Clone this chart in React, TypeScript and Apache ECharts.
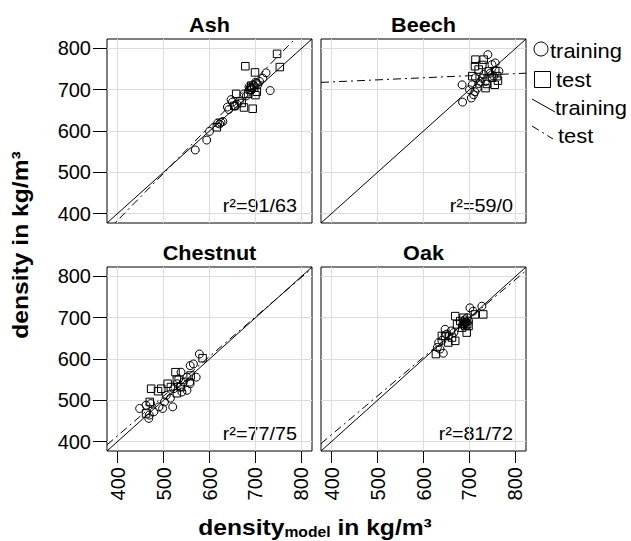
import React, { useEffect, useRef } from "react";
import * as echarts from "echarts";

// ---------- data ----------
const panelNames = ["Ash", "Beech", "Chestnut", "Oak"];
const r2Labels = ["r²=91/63", "r²=59/0", "r²=77/75", "r²=81/72"];
const tickValues = [400, 500, 600, 700, 800];
const axisRange = [377, 823];
const legendLabels = ["training", "test", "training", "test"];
const xTitleParts = ["density", "model", " in kg/m³"];
const yTitle = "density in kg/m³";

const ashTraining = [
  [569, 554], [594, 578], [600, 599], [618, 619], [622, 617], [625, 621], [629, 623],
  [639, 658], [647, 676], [642, 652], [650, 670], [665, 672], [680, 685], [686, 707],
  [702, 716], [709, 720], [716, 728], [723, 741], [732, 698], [690, 705], [695, 712],
  [700, 718], [675, 690], [660, 665], [655, 660], [692, 700], [705, 712],
];
const ashTest = [
  [747, 787], [678, 757], [699, 742], [753, 755], [691, 710], [658, 690], [694, 654],
  [675, 657], [700, 687], [654, 661], [616, 609], [697, 705], [703, 695], [688, 700],
  [670, 668], [684, 690],
];

const beechTraining = [
  [740, 785], [684, 712], [685, 670], [704, 680], [709, 688], [749, 761], [756, 765],
  [753, 733], [731, 737], [717, 704], [724, 720], [706, 712], [713, 729], [735, 720],
  [764, 745], [720, 715], [728, 728], [700, 700], [745, 740], [712, 695],
];
const beechTest = [
  [713, 773], [731, 773], [712, 757], [755, 712], [738, 714], [756, 745], [720, 749],
  [742, 745], [749, 729], [706, 733], [760, 733], [735, 704], [728, 760], [762, 722],
];

const chestnutTraining = [
  [578, 612], [558, 584], [565, 588], [571, 556], [557, 544], [551, 524], [538, 568],
  [520, 484], [502, 496], [448, 480], [468, 456], [469, 464], [462, 488], [479, 472],
  [490, 484], [506, 512], [536, 532], [543, 544], [551, 556], [522, 528], [540, 520],
  [558, 540], [533, 552], [498, 480], [472, 492], [530, 540], [515, 505],
];
const chestnutTest = [
  [585, 602], [473, 528], [488, 522], [495, 528], [526, 568], [529, 550], [559, 560],
  [509, 540], [529, 517], [470, 496], [516, 532], [538, 532], [462, 468],
];

const oakTraining = [
  [727, 728], [701, 724], [708, 716], [647, 672], [643, 614], [633, 640], [655, 656],
  [666, 664], [691, 688], [698, 692], [636, 624], [650, 660], [660, 668], [690, 695],
  [695, 700], [640, 645], [630, 628], [688, 684], [693, 690],
];
const oakTest = [
  [627, 612], [669, 704], [673, 684], [691, 680], [694, 664], [730, 708], [640, 656],
  [647, 656], [669, 644], [654, 640], [662, 652], [687, 700], [698, 680], [684, 676],
  [712, 708], [680, 692], [690, 690], [695, 685], [686, 686],
];

const trainingSlopes = [1, 1, 1, 1];
const trainingIntercepts = [0, 0, 0, 0];
const testSlopes = [1.14, 0.05, 0.96, 0.94];
const testIntercepts = [-72.6, 699, 30, 40.5];

// ---------- layout ----------
const FONT = "'Liberation Sans', Arial, Helvetica, sans-serif";
const PANEL_W = 205;
const PANEL_H = 184;
const panelPos = [
  [107, 39],
  [321, 39],
  [107, 267],
  [321, 267],
];
const DASHDOT = [8, 4, 2, 4];

export default function App() {
  const ref = useRef<HTMLDivElement>(null);

  useEffect(() => {
    if (!ref.current) return;
    const chart = echarts.init(ref.current, undefined, { renderer: "svg" });

    const panelData = [
      [ashTraining, ashTest],
      [beechTraining, beechTest],
      [chestnutTraining, chestnutTest],
      [oakTraining, oakTest],
    ];

    const fitLine = (slope: number, intercept: number) =>
      axisRange.map((x) => [x, slope * x + intercept]);

    const grids = panelPos.map(([l, t]) => ({
      left: l,
      top: t,
      width: PANEL_W,
      height: PANEL_H,
      show: true,
      borderColor: "#000",
      borderWidth: 1,
      backgroundColor: "transparent",
      containLabel: false,
      outerBoundsMode: "none",
    }));

    const xAxes = panelPos.map((_, i) => ({
      type: "value",
      gridIndex: i,
      min: axisRange[0],
      max: axisRange[1],
      axisLine: { show: false },
      axisTick: {
        show: i >= 2,
        length: 12,
        customValues: tickValues,
        lineStyle: { color: "#000", width: 1 },
      },
      axisLabel: {
        show: i >= 2,
        customValues: tickValues,
        rotate: 90,
        margin: 16,
        fontSize: 20,
        color: "#000",
        fontFamily: FONT,
      },
      splitLine: { show: true, lineStyle: { color: "#dcdcdc", width: 1 } },
    }));

    const yAxes = panelPos.map((_, i) => ({
      type: "value",
      gridIndex: i,
      min: axisRange[0],
      max: axisRange[1],
      axisLine: { show: false },
      axisTick: {
        show: i % 2 === 0,
        length: 14,
        customValues: tickValues,
        lineStyle: { color: "#000", width: 1 },
      },
      axisLabel: {
        show: i % 2 === 0,
        customValues: tickValues,
        margin: 16,
        fontSize: 20,
        color: "#000",
        fontFamily: FONT,
      },
      splitLine: { show: true, lineStyle: { color: "#dcdcdc", width: 1 } },
    }));

    const markerStyle = {
      color: "rgba(0,0,0,0)",
      borderColor: "#000",
      borderWidth: 1,
      opacity: 1,
    };

    const series: any[] = [];
    panelData.forEach(([tr, te], i) => {
      series.push({
        type: "scatter",
        xAxisIndex: i,
        yAxisIndex: i,
        data: tr,
        symbol: "circle",
        symbolSize: 8,
        itemStyle: markerStyle,
        silent: true,
      });
      series.push({
        type: "scatter",
        xAxisIndex: i,
        yAxisIndex: i,
        data: te,
        symbol: "rect",
        symbolSize: 7.5,
        itemStyle: markerStyle,
        silent: true,
      });
      series.push({
        type: "line",
        xAxisIndex: i,
        yAxisIndex: i,
        data: fitLine(trainingSlopes[i], trainingIntercepts[i]),
        symbol: "none",
        showSymbol: false,
        clip: true,
        lineStyle: { color: "#000", width: 1 },
        silent: true,
      });
      series.push({
        type: "line",
        xAxisIndex: i,
        yAxisIndex: i,
        data: fitLine(testSlopes[i], testIntercepts[i]),
        symbol: "none",
        showSymbol: false,
        clip: true,
        lineStyle: { color: "#000", width: 1, type: DASHDOT },
        silent: true,
      });
    });

    const graphics: any[] = [];
    // panel titles and r² labels
    panelNames.forEach((name, i) => {
      const [l, t] = panelPos[i];
      graphics.push({
        type: "text",
        x: l + PANEL_W / 2,
        y: t - 14,
        scaleX: 1.08,
        style: {
          text: name,
          fontSize: 20,
          fontWeight: "bold",
          fontFamily: FONT,
          fill: "#000",
          align: "center",
          verticalAlign: "middle",
        },
      });
      graphics.push({
        type: "text",
        x: l + (i % 2 === 0 ? 190 : 192),
        y: t + PANEL_H - 17.5,
        scaleX: 1.07,
        style: {
          text: r2Labels[i],
          fontSize: 18.5,
          fontFamily: FONT,
          fill: "#000",
          align: "right",
          verticalAlign: "middle",
        },
      });
    });

    // legend
    graphics.push({
      type: "circle",
      shape: { cx: 541, cy: 49, r: 7 },
      style: { fill: "none", stroke: "#000", lineWidth: 1 },
    });
    graphics.push({
      type: "rect",
      shape: { x: 534.5, y: 71.5, width: 16, height: 16 },
      style: { fill: "none", stroke: "#000", lineWidth: 1 },
    });
    graphics.push({
      type: "line",
      shape: { x1: 532, y1: 99, x2: 555, y2: 112 },
      style: { stroke: "#000", lineWidth: 1 },
    });
    graphics.push({
      type: "line",
      shape: { x1: 532, y1: 126, x2: 553, y2: 139 },
      style: { stroke: "#000", lineWidth: 1, lineDash: DASHDOT },
    });
    const legendPos = [
      [550, 51],
      [556, 80],
      [555, 108],
      [558, 136],
    ];
    legendLabels.forEach((lab, i) => {
      graphics.push({
        type: "text",
        x: legendPos[i][0],
        y: legendPos[i][1],
        scaleX: 1.07,
        style: {
          text: lab,
          fontSize: 20.5,
          fontFamily: FONT,
          fill: "#000",
          align: "left",
          verticalAlign: "middle",
        },
      });
    });

    // axis titles
    graphics.push({
      type: "text",
      x: 20,
      y: 245,
      rotation: Math.PI / 2,
      scaleX: 1.12,
      style: {
        text: yTitle,
        fontSize: 22,
        fontWeight: "bold",
        fontFamily: FONT,
        fill: "#000",
        align: "center",
        verticalAlign: "middle",
      },
    });
    graphics.push({
      type: "text",
      x: 315,
      y: 527,
      scaleX: 1.12,
      style: {
        text: `{a|${xTitleParts[0]}}{b|${xTitleParts[1]}}{a|${xTitleParts[2]}}`,
        align: "center",
        verticalAlign: "middle",
        fill: "#000",
        rich: {
          a: {
            fontSize: 22,
            fontWeight: "bold",
            fontFamily: FONT,
            fill: "#000",
            lineHeight: 26,
          },
          b: {
            fontSize: 14,
            fontWeight: "bold",
            fontFamily: FONT,
            fill: "#000",
            lineHeight: 26,
            padding: [10, 0, 0, 0],
          },
        },
      },
    });

    chart.setOption({
      animation: false,
      backgroundColor: "#fff",
      grid: grids,
      xAxis: xAxes,
      yAxis: yAxes,
      series,
      graphic: graphics,
    } as any);

    return () => chart.dispose();
  }, []);

  return (
    <div
      ref={ref}
      style={{ position: "absolute", left: 0, top: 0, width: 631, height: 541 }}
    />
  );
}
